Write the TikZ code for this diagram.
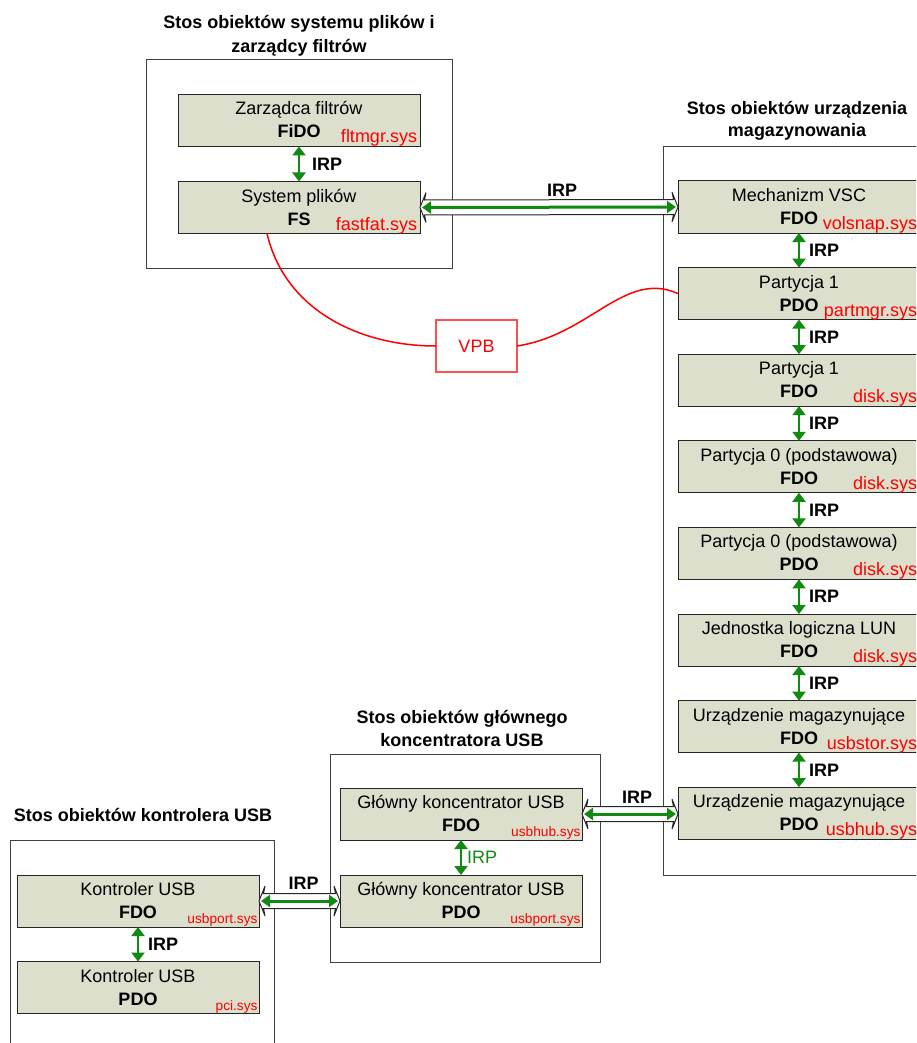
\documentclass[tikz,border=0pt]{standalone}
\usepackage{fontspec}
\setmainfont{Liberation Sans}
\usetikzlibrary{arrows.meta,calc}

\definecolor{boxfill}{HTML}{DCDFCB}
\definecolor{irpgreen}{HTML}{108A10}
\definecolor{drvred}{HTML}{FF0000}
\definecolor{framegrey}{HTML}{404040}
\definecolor{vpbred}{HTML}{FF5050}

\tikzset{
  every node/.style={inner sep=0pt, outer sep=0pt},
  container/.style={draw=framegrey, line width=1pt, fill=white},
  devbox/.style={draw=black!85, line width=1pt, fill=boxfill,
                 minimum width=242pt, minimum height=52pt},
  txt/.style={font=\fontsize{18}{21}\selectfont, anchor=base},
  txtbold/.style={font=\fontsize{18}{21}\selectfont\bfseries, anchor=base},
  title/.style={font=\fontsize{18}{21}\selectfont\bfseries, anchor=base},
  drv/.style={font=\fontsize{18}{21}\selectfont, text=drvred},
  drvsmall/.style={font=\fontsize{13.7}{16}\selectfont, text=drvred},
  irplabel/.style={font=\fontsize{18}{21}\selectfont\bfseries},
  vlink/.style={draw=irpgreen, line width=2.6pt,
                {Triangle[width=13pt,length=9pt]}-{Triangle[width=13pt,length=9pt]}},
  hollow/.style={draw=black!85, line width=1pt, fill=white},
  greenlink/.style={draw=irpgreen, line width=3pt,
                {Triangle[width=12pt,length=9pt]}-{Triangle[width=12pt,length=9pt]}},
  vpbbox/.style={draw=vpbred, line width=1.3pt, fill=white, text=drvred,
                 minimum width=81pt, minimum height=52pt,
                 font=\fontsize{18}{21}\selectfont},
  vpbline/.style={draw=drvred, line width=1.5pt},
}

% device object: name, centre, first line, object type, driver, driver style, right inset
\newcommand\devnode[7]{%
  \node[devbox] (#1) at (#2) {};
  \node[txt] (#1-a) at ($(#1.north)+(0,20.5)$) {#3};
  \node[txtbold] (#1-b) at ($(#1.north)+(0,43.5)$) {#4};
  \node[#6, anchor=base east] (#1-c) at ($(#1.south east)+(-#7,-3.5)$) {#5};
}

% wide hollow double arrow carrying a green IRP arrow, left end #1, right end #2
\newcommand\hollowirp[2]{%
  \draw[hollow] #1 -- ($#1+(6,-15)$) -- ($#1+(4.5,-7.5)$) -- ($#2+(-4.5,-7.5)$)
    -- ($#2+(-6,-15)$) -- #2 -- ($#2+(-6,15)$) -- ($#2+(-4.5,7.5)$)
    -- ($#1+(4.5,7.5)$) -- ($#1+(6,15)$) -- cycle;
  \draw[greenlink] ($#1+(2,0)$) -- ($#2+(-2,0)$);
}

\begin{document}
\begin{tikzpicture}[x=1pt, y=-1pt]
\useasboundingbox (0,0) rectangle (916,1043);
\clip (0,0) rectangle (916,1043);

% ---------- containers ----------
\node[container, minimum width=306pt, minimum height=208pt] (fsstack) at (299,164) {};
\node[container, minimum width=269pt, minimum height=728pt] (ststack) at (797.5,511) {};
\node[container, minimum width=270pt, minimum height=208pt] (hubstack) at (465,858) {};
\node[container, minimum width=264pt, minimum height=215pt] (ctlstack) at (142,947.5) {};

% ---------- stack titles ----------
\node[title] (t1a) at (299,29) {Stos obiektów systemu plików i};
\node[title] (t1b) at (299,53) {zarządcy filtrów};
\node[title] (t2a) at (797,115) {Stos obiektów urządzenia};
\node[title] (t2b) at (797,137) {magazynowania};
\node[title] (t3a) at (462,723) {Stos obiektów głównego};
\node[title] (t3b) at (462,746) {koncentratora USB};
\node[title] (t4a) at (143,821) {Stos obiektów kontrolera USB};

% ---------- file system stack ----------
\devnode{fido}{299,120.5}{Zarządca filtrów}{FiDO}{fltmgr.sys}{drv}{3}
\devnode{fs}{299,207.5}{System plików}{FS}{fastfat.sys}{drv}{3}

% ---------- storage stack ----------
\devnode{vsc}{799,207}{Mechanizm VSC}{FDO}{volsnap.sys}{drv}{3}
\devnode{ppdo}{799,293.6}{Partycja 1}{PDO}{partmgr.sys}{drv}{3}
\devnode{pfdo}{799,380.2}{Partycja 1}{FDO}{disk.sys}{drv}{3}
\devnode{zfdo}{799,466.8}{Partycja 0 (podstawowa)}{FDO}{disk.sys}{drv}{3}
\devnode{zpdo}{799,553.4}{Partycja 0 (podstawowa)}{PDO}{disk.sys}{drv}{3}
\devnode{lun}{799,640}{Jednostka logiczna LUN}{FDO}{disk.sys}{drv}{3}
\devnode{sfdo}{799,726.6}{Urządzenie magazynujące}{FDO}{usbstor.sys}{drv}{3}
\devnode{spdo}{799,813.2}{Urządzenie magazynujące}{PDO}{usbhub.sys}{drv}{3}

% ---------- root hub stack ----------
\devnode{hfdo}{461,814}{Główny koncentrator USB}{FDO}{usbhub.sys}{drvsmall}{1.5}
\devnode{hpdo}{461,901}{Główny koncentrator USB}{PDO}{usbport.sys}{drvsmall}{1.5}

% ---------- controller stack ----------
\devnode{cfdo}{138,901}{Kontroler USB}{FDO}{usbport.sys}{drvsmall}{1.5}
\devnode{cpdo}{138,987.5}{Kontroler USB}{PDO}{pci.sys}{drvsmall}{1.5}

% ---------- IRP links inside stacks ----------
\draw[vlink] (fido.south) -- (fs.north);
\node[irplabel, anchor=west] (i1) at ($(fido.south)!0.5!(fs.north)+(13,0)$) {IRP};

\foreach \u/\l [count=\k] in {vsc/ppdo, ppdo/pfdo, pfdo/zfdo, zfdo/zpdo, zpdo/lun, lun/sfdo, sfdo/spdo}{
  \draw[vlink] (\u.south) -- (\l.north);
  \node[irplabel, anchor=west] (is\k) at ($(\u.south)!0.5!(\l.north)+(10,0)$) {IRP};
}

\draw[vlink] (hfdo.south) -- (hpdo.north);
\node[font=\fontsize{18}{21}\selectfont, text=irpgreen, anchor=west] (ih)
  at ($(hfdo.south)!0.5!(hpdo.north)+(6,0)$) {IRP};

\draw[vlink] (cfdo.south) -- (cpdo.north);
\node[irplabel, anchor=west] (ic) at ($(cfdo.south)!0.5!(cpdo.north)+(10,0)$) {IRP};

% ---------- IRP links between stacks ----------
\hollowirp{(fs.east)}{(vsc.west)}
\node[irplabel, anchor=base] (x1) at ($(fs.east)!0.5!(vsc.west)+(13,-11)$) {IRP};

\coordinate (hubR) at (hfdo.east -| spdo.west);
\hollowirp{(hfdo.east)}{(hubR)}
\node[irplabel, anchor=base] (x2) at ($(hfdo.east)!0.5!(hubR)+(7,-11)$) {IRP};

\hollowirp{(cfdo.east)}{(hpdo.west)}
\node[irplabel, anchor=base] (x3) at ($(cfdo.east)!0.5!(hpdo.west)+(4,-12)$) {IRP};

% ---------- volume parameter block ----------
\node[vpbbox] (vpb) at (476.5,346) {VPB};
\coordinate (fsv) at ($(fs.south west)+(89,0)$);
\draw[vpbline] (fsv) .. controls +(18,77) and +(-76,0) .. (vpb.west);
\draw[vpbline] (vpb.east) .. controls +(73,-11) and +(-53,-24) .. (ppdo.west);
\end{tikzpicture}
\end{document}
